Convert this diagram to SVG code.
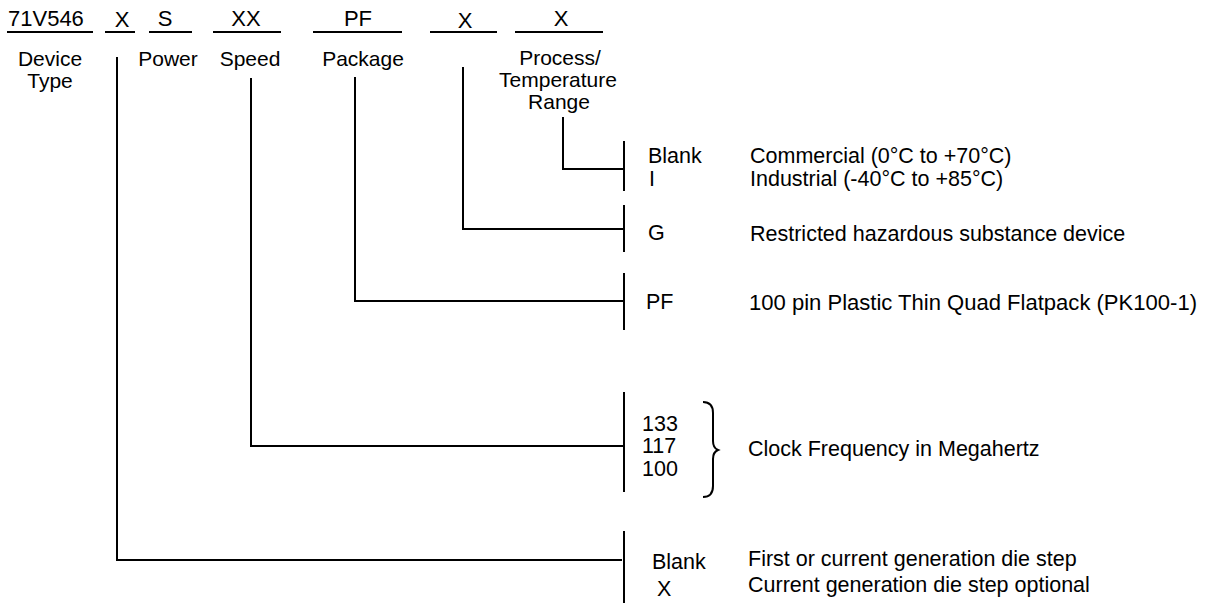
<svg xmlns="http://www.w3.org/2000/svg" width="1210" height="603" viewBox="0 0 1210 603">
<style>
text{font-family:"Liberation Sans",Arial,sans-serif;font-size:21.5px;fill:#000}
.top{font-size:22px}
.lbl{font-size:21px}
.c{text-anchor:middle}
line,path{stroke:#000;stroke-width:2;fill:none}
</style>
<rect width="1210" height="603" fill="#fff"/>
<g id="fields">
<g id="f-device"><text class="top" x="8" y="26">71V546</text><line x1="7" y1="32" x2="93" y2="32"/><text class="lbl c" x="50" y="66">Device</text><text class="lbl c" x="50" y="88">Type</text></g>
<g id="f-die"><text class="top c" x="122" y="27">X</text><line x1="105" y1="32" x2="135" y2="32"/></g>
<g id="f-power"><text class="top c" x="165" y="26">S</text><line x1="149" y1="32" x2="192" y2="32"/><text class="lbl c" x="168" y="66">Power</text></g>
<g id="f-speed"><text class="top c" x="246" y="26">XX</text><line x1="213" y1="32" x2="281" y2="32"/><text class="lbl c" x="250" y="66">Speed</text></g>
<g id="f-package"><text class="top c" x="358" y="26">PF</text><line x1="313" y1="32" x2="402" y2="32"/><text class="lbl c" x="363" y="66">Package</text></g>
<g id="f-rohs"><text class="top c" x="465" y="28">X</text><line x1="430" y1="32" x2="497" y2="32"/></g>
<g id="f-temp"><text class="top c" x="561" y="26">X</text><line x1="515" y1="32" x2="603" y2="32"/><text class="lbl c" x="560" y="65">Process/</text><text class="lbl c" x="558" y="87">Temperature</text><text class="lbl c" x="559" y="109">Range</text></g>
</g>
<g id="connectors">
<path d="M563 117V169H624"/>
<line x1="624" y1="141" x2="624" y2="191"/>
<path d="M463 67V229H624"/>
<line x1="624" y1="205" x2="624" y2="252"/>
<path d="M355 77V301H624"/>
<line x1="624" y1="273" x2="624" y2="330"/>
<path d="M251 78V446H624"/>
<line x1="624" y1="392" x2="624" y2="492"/>
<path d="M117 57V560H622"/>
<line x1="624" y1="531" x2="624" y2="603"/>
<path d="M703 402Q713 402 713 413V441Q713 448 718 450Q713 452 713 459V486Q713 497 703 497"/>
</g>
<g id="opt-temp"><text x="648" y="163">Blank</text><text x="649" y="186">I</text><text x="750" y="163">Commercial (0°C to +70°C)</text><text x="750" y="186">Industrial (-40°C to +85°C)</text></g>
<g id="opt-rohs"><text x="648" y="240">G</text><text x="750" y="241">Restricted hazardous substance device</text></g>
<g id="opt-package"><text x="646" y="309">PF</text><text x="749" y="310" textLength="448" lengthAdjust="spacingAndGlyphs">100 pin Plastic Thin Quad Flatpack (PK100-1)</text></g>
<g id="opt-speed"><text x="642" y="431">133</text><text x="642" y="453">117</text><text x="642" y="476">100</text><text x="748" y="456">Clock Frequency in Megahertz</text></g>
<g id="opt-die"><text x="652" y="569">Blank</text><text x="657" y="596">X</text><text x="748" y="566">First or current generation die step</text><text x="748" y="592">Current generation die step optional</text></g>
</svg>
